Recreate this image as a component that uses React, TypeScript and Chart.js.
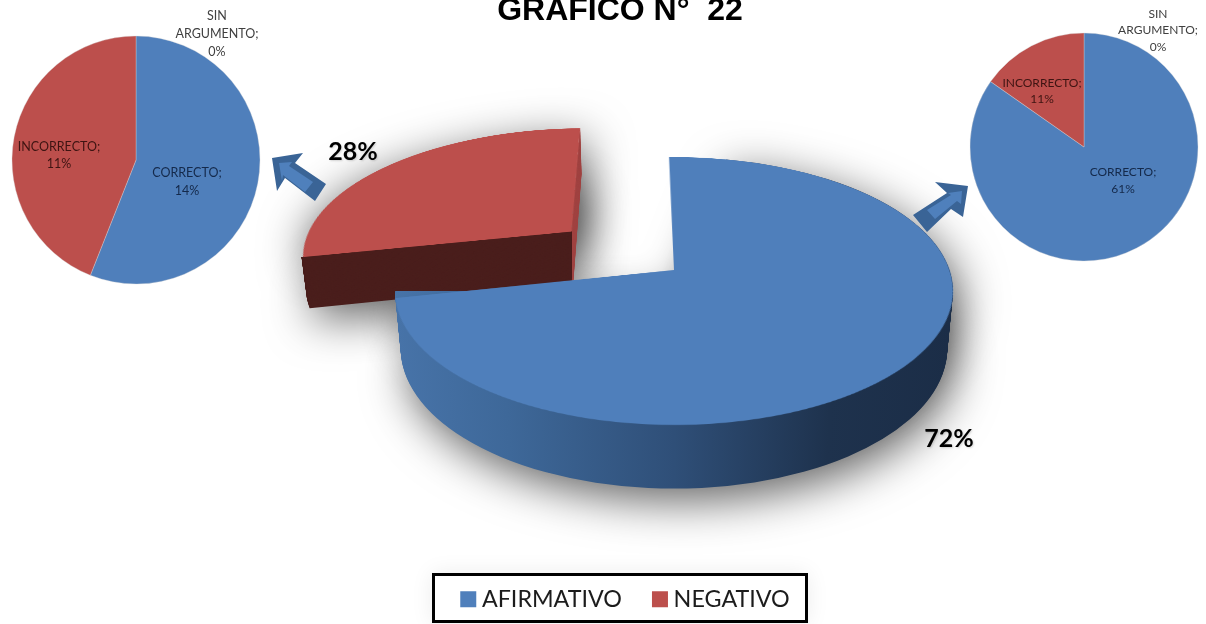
import React, { useEffect, useRef } from "react";
import { Chart, registerables } from "chart.js";

Chart.register(...registerables);

// ---------- data ----------
const mainLabels = ["AFIRMATIVO", "NEGATIVO"];
const mainValues = [72, 28];
const subLabels = ["CORRECTO", "INCORRECTO", "SIN ARGUMENTO"];
const negativeValues = [14, 11, 0];
const affirmativeValues = [61, 11, 0];
const titleText = "GRÁFICO N°  22";

// ---------- style ----------
const BLUE = "#4F7FBB";
const RED = "#BC4F4C";
const GREEN = "#9BBB59";
const RED_WALL = "#4A1E1C";
const RED_SIDE = "#A04442";
const R = 275.5;
const TILT = (61.7 * Math.PI) / 180;
const PERSP = 1545;
const APEX_X = 674;
const APEX_Y = 270;
const DEPTH = 66;
const RED_DEPTH = 60;
const EXPLODE = 137;
const ROTATION = -1.2;
const WALL_SHIFT = 12;
const FLAT = 1000;
const OFFSCREEN = 4000;

const rad = (d: number) => (d * Math.PI) / 180;

function project(x: number, y: number, h: number): [number, number] {
  const z = -h;
  const yy = y * Math.cos(TILT) - z * Math.sin(TILT);
  const zz = y * Math.sin(TILT) + z * Math.cos(TILT);
  const w = 1 - zz / PERSP;
  return [APEX_X + x / w, APEX_Y + yy / w];
}

function explodeVector(values: number[]): [number, number] {
  const total = values.reduce((a, b) => a + b, 0);
  const start = rad(-90 + ROTATION) + (values[0] / total) * 2 * Math.PI;
  const mid = start + ((values[1] / total) * 2 * Math.PI) / 2;
  return [EXPLODE * Math.cos(mid), EXPLODE * Math.sin(mid)];
}

function ellipseAt(ex: number, ey: number, h: number) {
  let x0 = 1e9, x1 = -1e9, y0 = 1e9, y1 = -1e9;
  for (let i = 0; i < 180; i++) {
    const a = (i / 180) * 2 * Math.PI;
    const [px, py] = project(ex + R * Math.cos(a), ey + R * Math.sin(a), h);
    x0 = Math.min(x0, px); x1 = Math.max(x1, px);
    y0 = Math.min(y0, py); y1 = Math.max(y1, py);
  }
  return { cx: (x0 + x1) / 2, cy: (y0 + y1) / 2, rx: (x1 - x0) / 2, ry: (y1 - y0) / 2 };
}

function drawWith(ctx: CanvasRenderingContext2D, arc: any, fill: any) {
  const saved = arc.options;
  arc.options = { ...saved, backgroundColor: fill };
  arc.draw(ctx);
  arc.options = saved;
}

const wallPlugin = {
  id: "wallPlugin",
  beforeDatasetDraw(chart: any) {
    const ctx: CanvasRenderingContext2D = chart.ctx;
    const [blue, red] = chart.getDatasetMeta(0).data as any[];
    const [ex, ey] = explodeVector(mainValues);
    const sh = rad(WALL_SHIFT);

    const blueTf = (h: number, away = 0) => {
      const e = ellipseAt(0, 0, h);
      const sx = e.rx / R, sy = e.ry / R;
      ctx.setTransform(sx, 0, 0, sy, e.cx - blue.x * sx - away, e.cy - blue.y * sy);
    };
    const redTf = (h: number, away = 0) => {
      const a0 = red.startAngle, a1 = red.endAngle;
      const v1 = [R * Math.cos(a0), R * Math.sin(a0)];
      const v2 = [R * Math.cos(a1), R * Math.sin(a1)];
      const p = project(ex, ey, h);
      const q1 = project(ex + R * Math.cos(a0 - sh), ey + R * Math.sin(a0 - sh), h);
      const q2 = project(ex + R * Math.cos(a1 - sh), ey + R * Math.sin(a1 - sh), h);
      const u1 = [q1[0] - p[0], q1[1] - p[1]];
      const u2 = [q2[0] - p[0], q2[1] - p[1]];
      const det = v1[0] * v2[1] - v2[0] * v1[1];
      const a = (u1[0] * v2[1] - u2[0] * v1[1]) / det;
      const c = (u2[0] * v1[0] - u1[0] * v2[0]) / det;
      const b = (u1[1] * v2[1] - u2[1] * v1[1]) / det;
      const d = (u2[1] * v1[0] - u1[1] * v2[0]) / det;
      ctx.setTransform(a, b, c, d, p[0] - a * red.x - c * red.y - away, p[1] - b * red.x - d * red.y);
    };

    const grad = ctx.createLinearGradient(blue.x - R, 0, blue.x + R, 0);
    grad.addColorStop(0, "#4773A8");
    grad.addColorStop(0.2, "#3E6899");
    grad.addColorStop(0.5, "#2F4F78");
    grad.addColorStop(0.78, "#1E324D");
    grad.addColorStop(1, "#1B2D47");

    // soft shadows: the shapes sit off-canvas, only their blurred shadow lands on it
    ctx.save();
    ctx.shadowColor = "rgba(0,0,0,0.62)";
    ctx.shadowBlur = 46;
    ctx.shadowOffsetX = OFFSCREEN + 6;
    ctx.shadowOffsetY = 12;
    redTf(0, OFFSCREEN); drawWith(ctx, red, RED_WALL);
    redTf(RED_DEPTH, OFFSCREEN); drawWith(ctx, red, RED_WALL);
    blueTf(0, OFFSCREEN); drawWith(ctx, blue, "#1B2D47");
    blueTf(DEPTH, OFFSCREEN); drawWith(ctx, blue, "#1B2D47");
    ctx.restore();

    // walls of the exploded slice: a lighter sliver on its right, the dark cut face below
    const cutA = project(
      ex + R * Math.cos(red.startAngle - sh),
      ey + R * Math.sin(red.startAngle - sh),
      0
    );
    const cutB = project(ex, ey, 0);
    const cutC = project(
      ex + R * Math.cos(red.endAngle - sh),
      ey + R * Math.sin(red.endAngle - sh),
      0
    );
    ctx.save();
    ctx.setTransform(1, 0, 0, 1, 0, 0);
    ctx.beginPath();
    ctx.moveTo(cutB[0], cutB[1]);
    ctx.lineTo(cutC[0], cutC[1]);
    ctx.lineTo(cutC[0] + 10, cutC[1]);
    ctx.lineTo(cutC[0] + 10, cutB[1] + 200);
    ctx.lineTo(cutB[0], cutB[1] + 200);
    ctx.closePath();
    ctx.clip();
    for (let h = RED_DEPTH; h >= 0; h -= 1) {
      redTf(h);
      drawWith(ctx, red, RED_SIDE);
    }
    ctx.restore();

    ctx.save();
    ctx.setTransform(1, 0, 0, 1, 0, 0);
    ctx.beginPath();
    ctx.moveTo(cutA[0] - 40, cutA[1] + 3);
    ctx.lineTo(cutA[0], cutA[1]);
    ctx.lineTo(cutB[0], cutB[1]);
    ctx.lineTo(cutB[0], cutB[1] + 200);
    ctx.lineTo(cutA[0] - 40, cutB[1] + 200);
    ctx.closePath();
    ctx.clip();
    for (let h = RED_DEPTH; h >= 0; h -= 1) {
      redTf(h);
      drawWith(ctx, red, RED_WALL);
    }
    ctx.restore();

    ctx.save();
    for (let h = DEPTH; h >= 0; h -= 1) {
      blueTf(h);
      drawWith(ctx, blue, grad);
    }
    ctx.restore();
    ctx.setTransform(1, 0, 0, 1, 0, 0);
    return false;
  },
};

const topPlugin = {
  id: "topPlugin",
  beforeDatasetDraw(chart: any) {
    const ctx: CanvasRenderingContext2D = chart.ctx;
    const [blue, red] = chart.getDatasetMeta(0).data as any[];
    const [ex, ey] = explodeVector(mainValues);
    blue.draw(ctx);
    ctx.save();
    ctx.translate(ex, ey);
    red.draw(ctx);
    ctx.restore();
    return false;
  },
};

function usePie(ref: React.RefObject<HTMLCanvasElement | null>, make: () => any) {
  useEffect(() => {
    const canvas = ref.current;
    if (!canvas) return;
    const chart = new Chart(canvas, make());
    return () => chart.destroy();
  }, []);
}

const baseOptions = {
  responsive: false,
  animation: false as const,
  events: [] as string[],
  plugins: { legend: { display: false }, tooltip: { enabled: false } },
};

function SmallPie({ values, cx, cy, r }: { values: number[]; cx: number; cy: number; r: number }) {
  const ref = useRef<HTMLCanvasElement>(null);
  usePie(ref, () => ({
    type: "pie",
    data: {
      labels: subLabels,
      datasets: [
        {
          data: values,
          backgroundColor: [BLUE, RED, GREEN],
          borderWidth: 0.5,
          borderColor: "rgba(215,215,215,0.7)",
          radius: r,
        },
      ],
    },
    options: baseOptions,
  }));
  const s = r * 2 + 4;
  return (
    <canvas
      ref={ref}
      width={s}
      height={s}
      style={{ position: "absolute", left: cx - s / 2, top: cy - s / 2, width: s, height: s }}
    />
  );
}

function Note({
  lines, x, y, lh, color, size = 12, bold = false, shadow,
}: {
  lines: string[]; x: number; y: number; lh: number; color: string; size?: number; bold?: boolean; shadow?: string;
}) {
  return (
    <div
      style={{
        position: "absolute",
        left: x - 100,
        top: y - lh / 2,
        width: 200,
        textAlign: "center",
        fontFamily: "Lato, sans-serif",
        fontSize: size,
        fontWeight: bold ? 700 : 400,
        lineHeight: `${lh}px`,
        color,
        textShadow: shadow,
      }}
    >
      {lines.map((l, i) => (
        <div key={i}>{l}</div>
      ))}
    </div>
  );
}

export default function App() {
  const wallRef = useRef<HTMLCanvasElement>(null);
  const topRef = useRef<HTMLCanvasElement>(null);

  usePie(wallRef, () => ({
    type: "pie",
    data: {
      labels: mainLabels,
      datasets: [
        {
          data: mainValues,
          backgroundColor: [BLUE, RED],
          borderWidth: 0,
          radius: R,
          rotation: ROTATION + WALL_SHIFT,
        },
      ],
    },
    options: {
      ...baseOptions,
      layout: { padding: { left: 50, bottom: 3 } },
      plugins: {
        tooltip: { enabled: false },
        legend: {
          display: true,
          position: "bottom",
          labels: {
            usePointStyle: true,
            pointStyle: "rect",
            boxWidth: 4,
            boxHeight: 16,
            padding: 36,
            color: "#1c1c1c",
            font: { family: "Lato, sans-serif", size: 23.3 },
          },
        },
      },
    },
    plugins: [wallPlugin],
  }));

  usePie(topRef, () => ({
    type: "pie",
    data: {
      labels: mainLabels,
      datasets: [
        {
          data: mainValues,
          backgroundColor: [BLUE, RED],
          borderWidth: 0,
          radius: R,
          rotation: ROTATION,
        },
      ],
    },
    options: baseOptions,
    plugins: [topPlugin],
  }));

  const pct = (v: number) => `${v}%`;

  return (
    <div
      style={{
        position: "fixed",
        left: 0,
        top: 0,
        width: 1206,
        height: 624,
        overflow: "hidden",
        background: "#fff",
      }}
    >
      <div
        style={{
          position: "absolute",
          left: 432,
          top: 573,
          width: 370,
          height: 44,
          border: "3px solid #000",
          background: "#fff",
          boxShadow: "0 0 22px rgba(0,0,0,0.08)",
        }}
      />
      <canvas
        ref={wallRef}
        width={1206}
        height={624}
        style={{ position: "absolute", left: 0, top: 0, width: 1206, height: 624 }}
      />
      <canvas
        ref={topRef}
        width={FLAT}
        height={FLAT}
        style={{
          position: "absolute",
          left: APEX_X - FLAT / 2,
          top: APEX_Y - FLAT / 2,
          width: FLAT,
          height: FLAT,
          transformOrigin: "50% 50%",
          transform: `perspective(${PERSP}px) rotateX(${(TILT * 180) / Math.PI}deg)`,
        }}
      />
      <SmallPie values={negativeValues} cx={135.5} cy={160} r={124} />
      <SmallPie values={affirmativeValues} cx={1084} cy={147} r={114} />

      <svg width={1206} height={624} style={{ position: "absolute", left: 0, top: 0 }}>
        <polygon points="272,158 303,153 295,163 326,184 315,201 285,178 277,191" fill="#3A6496" />
        <polygon points="279,163 292,162 289,166 313,182 305,192 283,175 282,181" fill="#4F80BC" />
        <polygon points="968,186 935,182 947,193 913,215 927,232 951,209 963,217" fill="#3A6496" />
        <polygon points="962,191 948,193 951,195 927,210 935,219 957,201 961,204" fill="#4F80BC" />
      </svg>

      <div
        style={{
          position: "absolute",
          left: 420,
          width: 400,
          top: -9,
          textAlign: "center",
          fontFamily: "'Liberation Sans', sans-serif",
          fontWeight: 700,
          fontSize: 32,
          whiteSpace: "pre",
          color: "#000",
        }}
      >
        {titleText}
      </div>

      <Note lines={["SIN", "ARGUMENTO;", pct(negativeValues[2])]} x={217} y={16} lh={18} color="#404040" size={12.5} />
      <Note lines={[`${subLabels[1]};`, pct(negativeValues[1])]} x={59} y={146} lh={17} color="#3E1412" size={12.5} />
      <Note lines={[`${subLabels[0]};`, pct(negativeValues[0])]} x={187} y={173} lh={18} color="#14294A" size={12.5} />

      <Note lines={["SIN", "ARGUMENTO;", pct(affirmativeValues[2])]} x={1158} y={14} lh={16.5} color="#404040" />
      <Note lines={[`${subLabels[1]};`, pct(affirmativeValues[1])]} x={1042} y={83} lh={16} color="#3E1412" />
      <Note lines={[`${subLabels[0]};`, pct(affirmativeValues[0])]} x={1123} y={171} lh={17} color="#14294A" />

      <Note lines={[pct(mainValues[1])]} x={353} y={150} lh={28} color="#000" size={25} bold shadow="1px 1px 2px rgba(0,0,0,0.15)" />
      <Note lines={[pct(mainValues[0])]} x={949} y={437} lh={28} color="#000" size={25} bold shadow="1px 1px 2px rgba(0,0,0,0.15)" />
    </div>
  );
}
